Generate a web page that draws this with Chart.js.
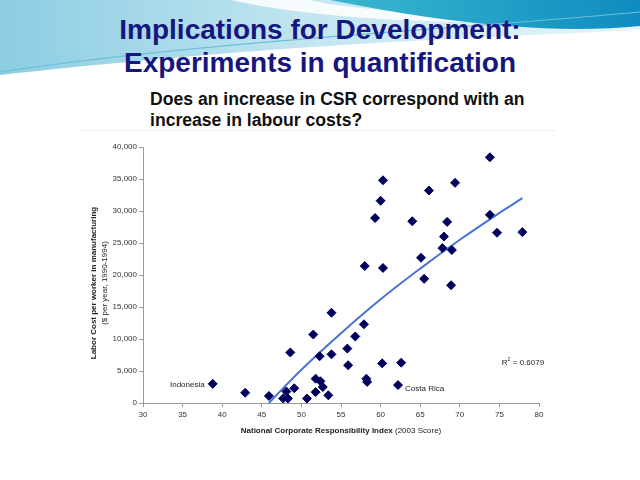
<!DOCTYPE html>
<html lang="en">
<head>
  <meta charset="UTF-8" />
  <title>Implications for Development</title>
  <script src="https://cdn.jsdelivr.net/npm/chart.js@4.4.1/dist/chart.umd.min.js"></script>
  <style>
    body {
      margin: 0;
      width: 640px;
      height: 480px;
      position: relative;
      overflow: hidden;
      background: #fff;
      font-family: "Liberation Sans", Arial, sans-serif;
    }
    #deco {
      position: absolute;
      left: 0;
      top: 0;
    }
    .title {
      position: absolute;
      left: 0;
      width: 640px;
      text-align: center;
      color: #16167e;
      font-weight: bold;
      font-size: 28px;
      line-height: 33px;
      top: 13px;
    }
    .question {
      position: absolute;
      left: 150px;
      top: 89px;
      font-size: 17.6px;
      font-weight: bold;
      line-height: 21px;
      color: #111;
    }
    .chart-box {
      position: absolute;
      left: 80px;
      top: 130px;
      width: 475px;
      height: 315px;
      background: #fff;
      border-top: 1px solid #eee;
    }
  </style>
</head>
<body>
  <svg id="deco" width="640" height="90">
    <defs>
      <linearGradient id="lb" x1="0" y1="0" x2="1" y2="0">
        <stop offset="0" stop-color="#8ccde3"/>
        <stop offset="0.5" stop-color="#c4e6f1"/>
        <stop offset="1" stop-color="#e6f5fa"/>
      </linearGradient>
      <linearGradient id="tl" x1="0" y1="0" x2="1" y2="0">
        <stop offset="0" stop-color="#3ab8cf"/>
        <stop offset="1" stop-color="#0e8cc0"/>
      </linearGradient>
    </defs>
    <path d="M0,0 H640 V30 C480,38 300,42 0,75 Z" fill="url(#lb)"/>
    <path d="M230,0 C300,15 400,24 540,22 C430,15 340,8 310,0 Z" fill="#ffffff" opacity="0.85"/>
    <path d="M330,0 H640 V26 C560,34 460,26 330,0 Z" fill="url(#tl)"/>
    <path d="M0,72 C200,42 420,32 640,12" stroke="#6fbfd8" stroke-width="1.2" fill="none"/>
  </svg>

  <div class="title">Implications for Development:<br>Experiments in quantification</div>
  <div class="question">Does an increase in CSR correspond with an<br>increase in labour costs?</div>

  <div class="chart-box"><canvas id="csrChart"></canvas></div>

<script>
// National Corporate Responsibility Index (2003 score) per country
const csrIndex = [
  38.8, 42.9, 45.9, 47.7, 48.3, 48.1, 49.1, 48.6, 50.7, 51.8,
  51.8, 52.4, 52.7, 53.4, 52.3, 53.8, 51.5, 53.8, 55.8, 55.9,
  56.8, 57.9, 58.2, 58.3, 58.0, 60.2, 60.3, 60.0, 60.3, 59.3,
  62.6, 62.2, 64.0, 65.1, 65.5, 66.1, 67.8, 68.0, 68.4, 69.0,
  68.9, 69.4, 73.8, 73.8, 74.7, 77.9
];
// Labor cost per worker in manufacturing ($ per year, 1990-1994)
const laborCost = [
  3000, 1600, 1100, 700, 700, 1800, 2300, 7900, 700, 1700,
  3800, 3400, 2500, 1200, 7300, 7600, 10700, 14100, 8500, 5900,
  10400, 12300, 3800, 3300, 21400, 6200, 21100, 31600, 34800, 28900,
  6300, 2800, 28400, 22700, 19400, 33200, 24200, 26000, 28300, 23900,
  18400, 34400, 38400, 29400, 26600, 26700
];
// trend line
const trendX = [45.9, 50, 55, 60, 65, 70, 75, 77.9];
const trendY = [0, 5200, 10900, 16200, 21000, 25500, 29700, 32000];

const xTicks = { min: 30, max: 80, step: 5 };
const yTicks = { min: 0, max: 40000, step: 5000 };

// labelled points
const notes = [
  { text: 'Indonesia', x: 38.8, y: 3000, align: 'right', dx: -8, dy: 1 },
  { text: 'Costa Rica', x: 62.2, y: 2800, align: 'left', dx: 7, dy: 4 }
];
const rSquared = '0.6079';

const points = csrIndex.map((x, i) => ({ x, y: laborCost[i] }));
const trend = trendX.map((x, i) => ({ x, y: trendY[i] }));

const FONT = '"Liberation Sans", Arial, sans-serif';

const textPlugin = {
  id: 'texts',
  afterDraw(chart) {
    const { ctx, chartArea, scales } = chart;
    const xs = scales.x, ys = scales.y;
    ctx.save();
    ctx.fillStyle = '#222';
    ctx.textBaseline = 'middle';
    ctx.font = '8px ' + FONT;
    notes.forEach(n => {
      ctx.textAlign = n.align;
      ctx.fillText(n.text, xs.getPixelForValue(n.x) + n.dx, ys.getPixelForValue(n.y) + n.dy);
    });
    // R squared
    ctx.textAlign = 'left';
    const rx = xs.getPixelForValue(75.3), ry = ys.getPixelForValue(6250);
    ctx.fillText('R', rx, ry);
    const rw = ctx.measureText('R').width;
    ctx.font = '5px ' + FONT;
    ctx.fillText('2', rx + rw, ry - 3);
    ctx.font = '8px ' + FONT;
    ctx.fillText(' = ' + rSquared, rx + rw + 3, ry);

    // y axis title (two lines)
    const cy = (chartArea.top + chartArea.bottom) / 2 + 8;
    ctx.translate(14, cy);
    ctx.rotate(-Math.PI / 2);
    ctx.textAlign = 'center';
    ctx.font = 'bold 8px ' + FONT;
    ctx.fillText('Labor Cost per worker in manufacturing', 0, 0);
    ctx.font = '8px ' + FONT;
    ctx.fillText('($ per year, 1990-1994)', 0, 11);
    ctx.setTransform(1, 0, 0, 1, 0, 0);

    // x axis title (bold + regular)
    const part1 = 'National Corporate Responsibility Index ';
    const part2 = '(2003 Score)';
    ctx.font = 'bold 8px ' + FONT;
    const w1 = ctx.measureText(part1).width;
    ctx.font = '8px ' + FONT;
    const w2 = ctx.measureText(part2).width;
    const startX = (chartArea.left + chartArea.right) / 2 - (w1 + w2) / 2;
    const ty = chartArea.bottom + 28;
    ctx.textAlign = 'left';
    ctx.font = 'bold 8px ' + FONT;
    ctx.fillText(part1, startX, ty);
    ctx.font = '8px ' + FONT;
    ctx.fillText(part2, startX + w1, ty);
    ctx.restore();
  }
};

new Chart(document.getElementById('csrChart'), {
  type: 'scatter',
  data: {
    datasets: [
      {
        label: 'Countries',
        data: points,
        pointStyle: 'rectRot',
        pointRadius: 4.5,
        pointBackgroundColor: '#00005c',
        pointBorderColor: '#00005c',
        pointBorderWidth: 1,
        order: 1
      },
      {
        label: 'Trend',
        data: trend,
        showLine: true,
        pointRadius: 0,
        borderColor: '#4a72d4',
        borderWidth: 2,
        tension: 0.4,
        order: 2
      }
    ]
  },
  options: {
    responsive: true,
    maintainAspectRatio: false,
    animation: false,
    layout: { padding: { top: 16, right: 16, left: 0, bottom: 0 } },
    plugins: {
      legend: { display: false },
      tooltip: { enabled: false }
    },
    scales: {
      x: {
        type: 'linear',
        min: xTicks.min,
        max: xTicks.max,
        afterFit: s => { s.height = 43; },
        ticks: { stepSize: xTicks.step, font: { size: 8, family: FONT }, color: '#333', padding: 3, maxRotation: 0 },
        grid: { drawOnChartArea: false, tickLength: 4, color: '#999' },
        border: { color: '#999' }
      },
      y: {
        min: yTicks.min,
        max: yTicks.max,
        afterFit: s => { s.width = 63; },
        ticks: { stepSize: yTicks.step, font: { size: 8, family: FONT }, color: '#333', padding: 2 },
        grid: { drawOnChartArea: false, tickLength: 4, color: '#999' },
        border: { color: '#999' }
      }
    }
  },
  plugins: [textPlugin]
});
</script>
</body>
</html>
